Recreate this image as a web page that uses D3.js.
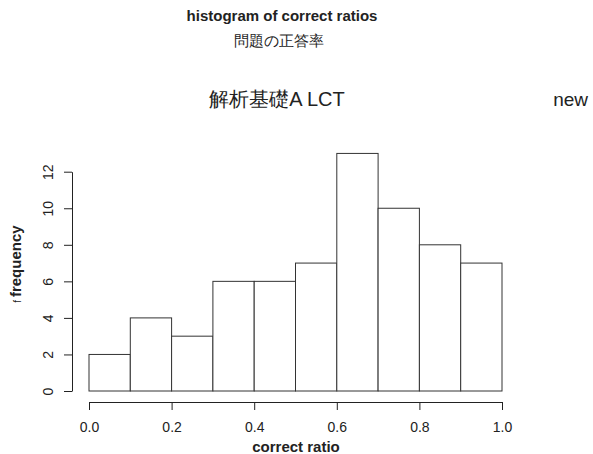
<!DOCTYPE html>
<html>
<head>
<meta charset="utf-8">
<script src="https://cdn.jsdelivr.net/npm/d3@7/dist/d3.min.js"></script>
<style>
  html, body { margin: 0; padding: 0; background: #fff; }
  text { font-family: "Liberation Sans", Arial, Helvetica, sans-serif; fill: #222; }
</style>
</head>
<body>
<svg id="chart" width="593" height="454"></svg>
<script>
// Histogram bins: lower/upper edges and counts
const binStarts = [0.0, 0.1, 0.2, 0.3, 0.4, 0.5, 0.6, 0.7, 0.8, 0.9];
const binEnds   = [0.1, 0.2, 0.3, 0.4, 0.5, 0.6, 0.7, 0.8, 0.9, 1.0];
const counts    = [2, 4, 3, 6, 6, 7, 13, 10, 8, 7];
const xTicks = [0, 0.2, 0.4, 0.6, 0.8, 1.0];
const yTicks = [0, 2, 4, 6, 8, 10, 12];

const svg = d3.select("#chart");
const font = "Liberation Sans, Arial, sans-serif";

const x = d3.scaleLinear().domain([0, 1]).range([89, 502]);
const y = d3.scaleLinear().domain([0, 12]).range([391, 171.7]);

// Bars
svg.append("g").selectAll("rect")
  .data(counts)
  .join("rect")
  .attr("x", (d, i) => x(binStarts[i]))
  .attr("width", (d, i) => x(binEnds[i]) - x(binStarts[i]))
  .attr("y", d => y(d))
  .attr("height", d => y(0) - y(d))
  .attr("fill", "#fff")
  .attr("stroke", "#333")
  .attr("stroke-width", 1);

// X axis
const xAxis = svg.append("g")
  .attr("transform", "translate(0,402)")
  .call(d3.axisBottom(x).tickValues(xTicks).tickFormat(d3.format(".1f"))
    .tickSize(8).tickPadding(12).tickSizeOuter(0));
xAxis.select(".domain").attr("stroke", "#222");
xAxis.selectAll(".tick line").attr("stroke", "#222");
xAxis.selectAll(".tick text").attr("font-size", 14).attr("fill", "#222")
  .attr("font-family", font);

// Y axis
const yAxis = svg.append("g")
  .attr("transform", "translate(72,0)")
  .call(d3.axisLeft(y).tickValues(yTicks).tickSize(8).tickSizeOuter(0));
yAxis.select(".domain").attr("stroke", "#222");
yAxis.selectAll(".tick line").attr("stroke", "#222");
yAxis.selectAll(".tick text")
  .attr("font-size", 14).attr("fill", "#222")
  .attr("font-family", font)
  .attr("x", null)
  .attr("text-anchor", "middle")
  .attr("transform", "translate(-24,0) rotate(-90)")
  .attr("dy", "0.35em");

// Axis titles
svg.append("text")
  .attr("x", 296).attr("y", 452)
  .attr("text-anchor", "middle")
  .attr("font-size", 15).attr("font-weight", "bold")
  .text("correct ratio");

const yLab = svg.append("text")
  .attr("transform", "translate(21,264) rotate(-90)")
  .attr("text-anchor", "middle")
  .attr("font-size", 15).attr("font-weight", "bold");
yLab.append("tspan").attr("font-size", 10).attr("font-weight", "normal").text("f ");
yLab.append("tspan").text("frequency");

// Titles
svg.append("text")
  .attr("x", 282).attr("y", 21)
  .attr("text-anchor", "middle")
  .attr("font-size", 15).attr("font-weight", "bold")
  .text("histogram of correct ratios");

svg.append("text")
  .attr("x", 279).attr("y", 46)
  .attr("text-anchor", "middle")
  .attr("font-size", 15)
  .attr("font-family", "Noto Sans CJK JP, sans-serif")
  .text("問題の正答率");

svg.append("text")
  .attr("x", 277).attr("y", 106)
  .attr("text-anchor", "middle")
  .attr("font-size", 20)
  .attr("font-family", "Liberation Sans, Noto Sans CJK JP, sans-serif")
  .text("解析基礎A LCT");

svg.append("text")
  .attr("x", 588).attr("y", 106)
  .attr("text-anchor", "end")
  .attr("font-size", 19)
  .text("new");
</script>
</body>
</html>
